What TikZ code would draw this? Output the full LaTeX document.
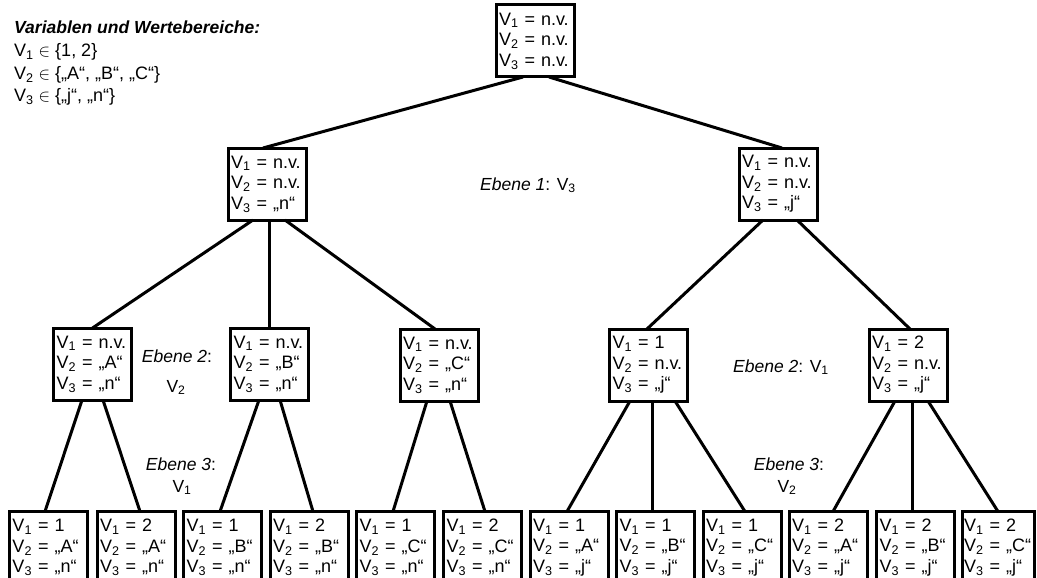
\documentclass[tikz,border=0pt]{standalone}
\usepackage{fontspec}
\setmainfont{Liberation Sans}
\usetikzlibrary{calc}
\newcommand{\Vs}[1]{V\textsubscript{#1}}
\newcommand{\conn}[4]{\draw[link] ($(#1.south)+(#2,0)$) -- ($(#3.north)+(#4,0)$);}
\tikzset{
  box/.style={draw, line width=3pt, fill=white, text width=72pt, align=left,
    inner xsep=3pt, inner ysep=0pt, minimum height=72pt, outer sep=0pt,
    font=\fontsize{18}{20.5}\selectfont},
  link/.style={line width=3pt},
  lbl/.style={font=\fontsize{17.5}{23}\selectfont, align=center, inner sep=0pt}
}
\begin{document}
\begin{tikzpicture}[x=1pt,y=-1pt]
\useasboundingbox (0,0) rectangle (1037,578);
\clip (0,0) rectangle (1037,578);
% legend
\node[anchor=north west, inner sep=0pt, align=left, font=\fontsize{18}{22.7}\selectfont] (vars) at (14,21)
  {{\fontsize{17.5}{22.7}\selectfont\bfseries\itshape Variablen und Wertebereiche:}\\
   \Vs{1} ${\in}$ \{1, 2\}\\
   \Vs{2} ${\in}$ \{„A“, „B“, „C“\}\\
   \Vs{3} ${\in}$ \{„j“, „n“\}};
% root
\node[box] (r) at (535,41) {\Vs{1} = n.v.\\\Vs{2} = n.v.\\\Vs{3} = n.v.};
% level 1
\node[box] (l) at (267,184) {\Vs{1} = n.v.\\\Vs{2} = n.v.\\\Vs{3} = „n“};
\node[box] (rr) at (778,184) {\Vs{1} = n.v.\\\Vs{2} = n.v.\\\Vs{3} = „j“};
% level 2
\node[box] (a) at (92.5,364) {\Vs{1} = n.v.\\\Vs{2} = „A“\\\Vs{3} = „n“};
\node[box] (b) at (269.5,364) {\Vs{1} = n.v.\\\Vs{2} = „B“\\\Vs{3} = „n“};
\node[box] (c) at (439,365) {\Vs{1} = n.v.\\\Vs{2} = „C“\\\Vs{3} = „n“};
\node[box] (one) at (648.5,365) {\Vs{1} = 1\\\Vs{2} = n.v.\\\Vs{3} = „j“};
\node[box] (two) at (908,365) {\Vs{1} = 2\\\Vs{2} = n.v.\\\Vs{3} = „j“};
% level 3
\node[box] (f1) at (48.5,547.5) {\Vs{1} = 1\\\Vs{2} = „A“\\\Vs{3} = „n“};
\node[box] (f2) at (136,547.5) {\Vs{1} = 2\\\Vs{2} = „A“\\\Vs{3} = „n“};
\node[box] (f3) at (222.5,547.5) {\Vs{1} = 1\\\Vs{2} = „B“\\\Vs{3} = „n“};
\node[box] (f4) at (309,547.5) {\Vs{1} = 2\\\Vs{2} = „B“\\\Vs{3} = „n“};
\node[box] (f5) at (395.5,547.5) {\Vs{1} = 1\\\Vs{2} = „C“\\\Vs{3} = „n“};
\node[box] (f6) at (482.5,547.5) {\Vs{1} = 2\\\Vs{2} = „C“\\\Vs{3} = „n“};
\node[box] (f7) at (569,547.5) {\Vs{1} = 1\\\Vs{2} = „A“\\\Vs{3} = „j“};
\node[box] (f8) at (655.5,547.5) {\Vs{1} = 1\\\Vs{2} = „B“\\\Vs{3} = „j“};
\node[box] (f9) at (742,547.5) {\Vs{1} = 1\\\Vs{2} = „C“\\\Vs{3} = „j“};
\node[box] (f10) at (828,547.5) {\Vs{1} = 2\\\Vs{2} = „A“\\\Vs{3} = „j“};
\node[box] (f11) at (915.5,547.5) {\Vs{1} = 2\\\Vs{2} = „B“\\\Vs{3} = „j“};
\node[box, text width=69pt, inner xsep=1.5pt] (f12) at (998.5,547.5) {\Vs{1} = 2\\\Vs{2} = „C“\\\Vs{3} = „j“};
% connectors
\conn{r}{-12}{l}{-4}
\conn{r}{14}{rr}{4}
\conn{l}{-14}{a}{0}
\draw[link] (b.north) -- (b.north |- l.south);
\conn{l}{18}{c}{-4}
\conn{rr}{-15}{one}{-1.5}
\conn{rr}{19}{two}{2}
\conn{a}{-10.5}{f1}{-3.5}
\conn{a}{10.5}{f2}{4}
\conn{b}{-10.5}{f3}{-2.5}
\conn{b}{10.5}{f4}{4}
\conn{c}{-12}{f5}{-2.5}
\conn{c}{11}{f6}{2.5}
\conn{one}{-18.5}{f7}{-2}
\conn{one}{3.5}{f8}{-3.5}
\conn{one}{26.5}{f9}{3}
\conn{two}{-13}{f10}{5}
\conn{two}{4}{f11}{-3.5}
\conn{two}{20}{f12}{-0.5}
% level labels
\node[lbl, anchor=base] (e1) at (528,190) {\textit{Ebene 1}: \Vs{3}};
\node[lbl, anchor=base] (e2a) at (177,362) {\textit{Ebene 2}:};
\node[lbl, anchor=base] (e2av) at (176,392) {\Vs{2}};
\node[lbl, anchor=base] (e2b) at (781,372) {\textit{Ebene 2}: \Vs{1}};
\node[lbl, anchor=base] (e3a) at (181,470) {\textit{Ebene 3}:};
\node[lbl, anchor=base] (e3av) at (182,492) {\Vs{1}};
\node[lbl, anchor=base] (e3b) at (789,470) {\textit{Ebene 3}:};
\node[lbl, anchor=base] (e3bv) at (787,492) {\Vs{2}};
\end{tikzpicture}
\end{document}
